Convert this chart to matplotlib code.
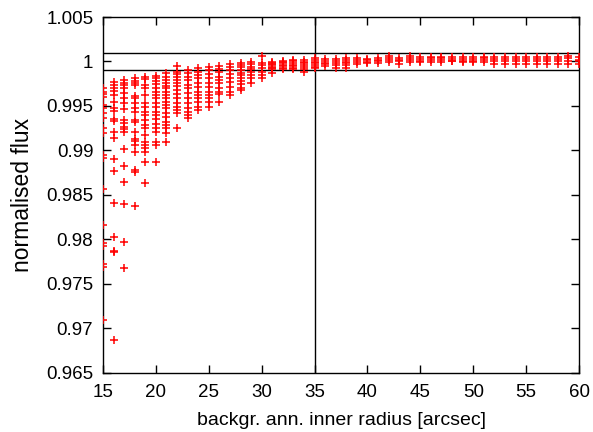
import matplotlib
matplotlib.use("Agg")
import matplotlib.pyplot as plt
from matplotlib.ticker import FuncFormatter

plt.rcParams['font.family'] = ['Liberation Sans', 'DejaVu Sans']

# inner radius of background annulus [arcsec]
radii = list(range(15, 61))

# normalised flux values read per radius column
r15 = [0.99698, 0.99659, 0.99630, 0.99603, 0.99510, 0.99473, 0.99416, 0.99360, 0.99248, 0.99191,
       0.98947, 0.98910, 0.98565, 0.98160, 0.97960, 0.97927, 0.97721, 0.97690, 0.97091]
r16 = [0.99772, 0.99735, 0.99698, 0.99671, 0.99622, 0.99547, 0.99473, 0.99446, 0.99349, 0.99333,
       0.99209, 0.99135, 0.98899, 0.98767, 0.98404, 0.98028, 0.97870, 0.97859, 0.96865]
r17 = [0.99791, 0.99761, 0.99735, 0.99698, 0.99641, 0.99585, 0.99529, 0.99461, 0.99341, 0.99311,
       0.99259, 0.99236, 0.99209, 0.99015, 0.98823, 0.98640, 0.98396, 0.97972, 0.97672]
r18 = [0.99810, 0.99783, 0.99761, 0.99735, 0.99611, 0.99585, 0.99529, 0.99473, 0.99434, 0.99341,
       0.99322, 0.99209, 0.99124, 0.99105, 0.99060, 0.98984, 0.98778, 0.98759, 0.98373]
r19 = [0.99821, 0.99799, 0.99735, 0.99698, 0.99622, 0.99529, 0.99491, 0.99434, 0.99397, 0.99341,
       0.99285, 0.99248, 0.99173, 0.99097, 0.99060, 0.99023, 0.98984, 0.98872, 0.98629]
r20 = [0.99836, 0.99810, 0.99783, 0.99746, 0.99698, 0.99659, 0.99622, 0.99585, 0.99529, 0.99491,
       0.99434, 0.99397, 0.99349, 0.99296, 0.99248, 0.99209, 0.99097, 0.99060, 0.98872]
r21 = [0.99867, 0.99828, 0.99791, 0.99754, 0.99724, 0.99698, 0.99659, 0.99622, 0.99585, 0.99547,
       0.99510, 0.99473, 0.99416, 0.99378, 0.99322, 0.99285, 0.99248, 0.99198, 0.99097]
r22 = [0.99949, 0.99885, 0.99859, 0.99828, 0.99791, 0.99754, 0.99724, 0.99679, 0.99634, 0.99585,
       0.99529, 0.99491, 0.99454, 0.99424, 0.99248]
r23 = [0.99904, 0.99867, 0.99828, 0.99791, 0.99735, 0.99698, 0.99641, 0.99585, 0.99529, 0.99473,
       0.99434, 0.99397, 0.99360]
r24 = [0.99930, 0.99885, 0.99847, 0.99810, 0.99754, 0.99716, 0.99659, 0.99622, 0.99585, 0.99547,
       0.99491, 0.99454]
r25 = [0.99941, 0.99904, 0.99855, 0.99810, 0.99754, 0.99716, 0.99659, 0.99622, 0.99585, 0.99540,
       0.99491]
r26 = [0.99952, 0.99915, 0.99878, 0.99828, 0.99791, 0.99754, 0.99704, 0.99659, 0.99630, 0.99540]
r27 = [0.99968, 0.99941, 0.99904, 0.99855, 0.99810, 0.99765, 0.99716, 0.99659, 0.99622]
r28 = [0.99986, 0.99960, 0.99935, 0.99905, 0.99875, 0.99845, 0.99815, 0.99785, 0.99745, 0.99705, 0.99679]
r29 = [0.99997, 0.99971, 0.99941, 0.99912, 0.99885, 0.99847, 0.99810, 0.99754]
r30 = [1.00061, 0.99986, 0.99960, 0.99923, 0.99885, 0.99847, 0.99810]
r31 = [0.99997, 0.99985, 0.99971, 0.99955, 0.99941, 0.99925, 0.99912, 0.99873]
r32 = [1.00008, 0.99990, 0.99979, 0.99960, 0.99949, 0.99930, 0.99912]
r33 = [1.00016, 1.00000, 0.99986, 0.99965, 0.99949, 0.99930, 0.99912]
r34 = [1.00016, 0.99998, 0.99979, 0.99960, 0.99941, 0.99920, 0.99885]
r35 = [1.00035, 1.00015, 0.99997, 0.99980, 0.99960, 0.99940, 0.99923]
r36 = [1.00024, 1.00005, 0.99986, 0.99968, 0.99949]
r37 = [1.00024, 1.00005, 0.99986, 0.99960, 0.99923]
r38 = [1.00035, 1.00015, 0.99997, 0.99978, 0.99960, 0.99923]
r39 = [1.00035, 1.00016, 0.99997, 0.99975]
r40 = [1.00030, 1.00012, 0.99995, 0.99978]
r41 = [1.00038, 1.00018, 1.00000, 0.99978]
r42 = [1.00065, 1.00040, 1.00020, 0.99990]
r43 = [1.00040, 1.00020, 1.00000, 0.99975]
r44 = [1.00065, 1.00042, 1.00020, 0.99990]
r45 = [1.00050, 1.00030, 1.00010, 0.99995]
r46 = [1.00055, 1.00035, 1.00015, 0.99995]
r47 = [1.00055, 1.00035, 1.00015, 0.99995]
r48 = [1.00050, 1.00030, 1.00010, 1.00000]
r49 = [1.00045, 1.00025, 1.00005, 0.99990]
r50 = [1.00050, 1.00030, 1.00010, 0.99990]
r51 = [1.00055, 1.00035, 1.00015, 0.99990]
r52 = [1.00055, 1.00030, 1.00005, 0.99975]
r53 = [1.00045, 1.00025, 1.00000, 0.99975]
r54 = [1.00045, 1.00025, 1.00000, 0.99975]
r55 = [1.00050, 1.00028, 1.00005, 0.99975]
r56 = [1.00050, 1.00028, 1.00005, 0.99975]
r57 = [1.00055, 1.00030, 1.00005, 0.99975]
r58 = [1.00055, 1.00030, 1.00005, 0.99975]
r59 = [1.00065, 1.00040, 1.00010, 0.99975]
r60 = [1.00045, 1.00020, 1.00000, 0.99975]

columns = [r15, r16, r17, r18, r19, r20, r21, r22, r23, r24, r25, r26, r27, r28, r29, r30,
           r31, r32, r33, r34, r35, r36, r37, r38, r39, r40, r41, r42, r43, r44, r45, r46,
           r47, r48, r49, r50, r51, r52, r53, r54, r55, r56, r57, r58, r59, r60]

x_ticks = [15, 20, 25, 30, 35, 40, 45, 50, 55, 60]
y_ticks = [0.965, 0.97, 0.975, 0.98, 0.985, 0.99, 0.995, 1.0, 1.005]
tolerance_lines = [0.999, 1.001]
chosen_radius = 35

fig = plt.figure(figsize=(5.93, 4.32), dpi=100)
ax = fig.add_axes([0.1737, 0.1377, 0.8027, 0.8229])

xs = []
ys = []
for r, col in zip(radii, columns):
    xs.extend([r] * len(col))
    ys.extend(col)
ax.plot(xs, ys, linestyle='none', marker='+', color='#ff0000', ms=5.5, mew=1.1, zorder=3)

for yv in tolerance_lines:
    ax.axhline(yv, color='black', lw=1.0, zorder=2)
ax.axvline(chosen_radius, color='black', lw=1.0, zorder=2)

ax.set_xlim(15, 60)
ax.set_ylim(0.965, 1.005)
ax.set_xticks(x_ticks)
ax.set_yticks(y_ticks)
ax.yaxis.set_major_formatter(FuncFormatter(lambda v, p: '%g' % round(v, 4)))
ax.tick_params(direction='in', length=6, width=1, top=True, right=True, labelsize=13.5)
ax.tick_params(axis='x', pad=8)
ax.tick_params(axis='y', pad=7)
for s in ax.spines.values():
    s.set_linewidth(1.0)

ax.set_xlabel('backgr. ann. inner radius [arcsec]', fontsize=14, labelpad=8)
ax.set_ylabel('normalised flux', fontsize=16.5, labelpad=9)

fig.savefig('out.png', dpi=100)
